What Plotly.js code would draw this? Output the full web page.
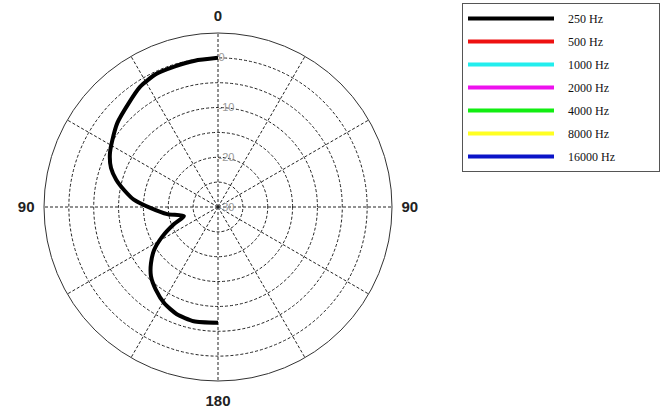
<!DOCTYPE html>
<html><head><meta charset="utf-8">
<script src="https://cdn.plot.ly/plotly-3.0.1.min.js"></script>
<style>html,body{margin:0;padding:0;background:#fff}</style>
</head><body><div id="chart" style="width:662px;height:409px"></div>
<script>
// Polar response, dB vs angle (degrees)
const angles250 = [0, 9, 17, 25, 33, 41, 50, 58, 64, 70, 75, 80, 85, 91, 98, 105, 111, 118, 124, 130, 136, 143, 151, 159, 168, 180];
const db250 = [0, -0.2, -0.4, -0.5, -1.2, -2.5, -3.6, -4.9, -5.8, -7.1, -8.8, -10.9, -13, -16.5, -19.7, -22.9, -20.6, -17.3, -14.5, -12.4, -10.6, -9.2, -7.8, -6.9, -6.5, -6.7];
const seriesNames = ["250 Hz", "500 Hz", "1000 Hz", "2000 Hz", "4000 Hz", "8000 Hz", "16000 Hz"];
const seriesColors = ["#000000", "#ee1111", "#22eeee", "#ee11ee", "#11ee11", "#ffff22", "#0a14c8"];
const angTickVals = [0, 30, 60, 90, 120, 150, 180, 210, 240, 270, 300, 330];
const angTickText = ["0", "", "", "90", "", "", "180", "", "", "90", "", ""];
const radTickVals = [-30, -25, -20, -15, -10, -5, 0];
const radTickText = ["-30", "", "-20", "", "-10", "", "0"];

const lead = "\u00A0\u00A0\u00A0";
const pad = "\u00A0".repeat(13);
const traces = seriesNames.map((name, i) => ({
  type: "scatterpolar",
  mode: "lines",
  name: lead + name + pad,
  legendgroup: "g" + i,
  r: i === 0 ? db250 : [null],
  theta: i === 0 ? angles250 : [null],
  line: {color: seriesColors[i], width: 4, shape: "spline", smoothing: 0.6},
  showlegend: true
}));

const layout = {
  width: 662, height: 409,
  margin: {l: 0, r: 0, t: 0, b: 0},
  paper_bgcolor: "#fff",
  showlegend: true,
  legend: {
    x: 462/662, y: 1 - 3/409, xanchor: "left", yanchor: "top",
    bordercolor: "#555", borderwidth: 1, bgcolor: "#fff",
    font: {family: "Liberation Serif, Times New Roman, serif", size: 12, color: "#111"},
    itemwidth: 86, tracegroupgap: 4
  },
  polar: {
    domain: {x: [44/662, 392/662], y: [28/409, 376/409]},
    bgcolor: "#fff",
    angularaxis: {
      rotation: 90, direction: "counterclockwise",
      tickvals: angTickVals, ticktext: angTickText,
      showline: true, linecolor: "#333", linewidth: 1,
      gridcolor: "#222", griddash: "3px,2px", gridwidth: 1,
      ticks: "outside", ticklen: 6, tickcolor: "rgba(0,0,0,0)",
      tickfont: {family: "Liberation Sans, Arial, sans-serif", size: 15, color: "#222", weight: "bold"}
    },
    radialaxis: {
      range: [-30, 5], angle: 90, tickangle: 90,
      tickvals: radTickVals, ticktext: radTickText,
      showline: false, ticks: "",
      gridcolor: "#222", griddash: "3px,2px", gridwidth: 1,
      tickfont: {family: "Liberation Sans, Arial, sans-serif", size: 11, color: "#999"}
    }
  }
};
Plotly.newPlot("chart", traces, layout, {displayModeBar: false, staticPlot: true});
</script></body></html>
